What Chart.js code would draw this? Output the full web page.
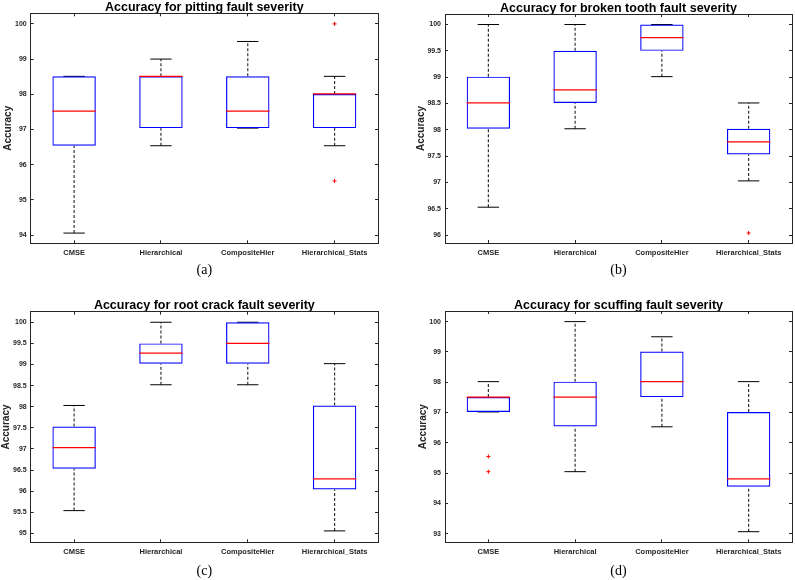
<!DOCTYPE html>
<html>
<head>
<meta charset="utf-8">
<script src="https://cdn.jsdelivr.net/npm/chart.js@4.4.1/dist/chart.umd.min.js"></script>
<style>
  body { margin: 0; background: #fff; }
  canvas { position: absolute; }
</style>
</head>
<body>
<canvas id="pitting" width="397" height="290" style="left:0;top:0"></canvas>
<canvas id="broken" width="398" height="290" style="left:397px;top:0"></canvas>
<canvas id="crack" width="397" height="290" style="left:0;top:290px"></canvas>
<canvas id="scuffing" width="398" height="290" style="left:397px;top:290px"></canvas>
<script>
const categories = ['CMSE', 'Hierarchical', 'CompositeHier', 'Hierarchical_Stats'];

// (a) pitting
const pittingLow = [94.06, 96.54, 97.04, 96.54];
const pittingQ1 = [96.54, 97.04, 97.04, 97.04];
const pittingMedian = [97.52, 98.51, 97.52, 98.01];
const pittingQ3 = [98.51, 98.51, 98.51, 98.01];
const pittingHigh = [98.51, 99.0, 99.5, 98.51];
const pittingOutliers = [[], [], [], [100, 95.54]];

// (b) broken tooth
const brokenLow = [96.53, 98.02, 99.01, 97.03];
const brokenQ1 = [98.02, 98.51, 99.5, 97.53];
const brokenMedian = [98.51, 98.76, 99.75, 97.77];
const brokenQ3 = [99.01, 99.5, 100, 98.02];
const brokenHigh = [100, 100, 100, 98.51];
const brokenOutliers = [[], [], [], [96.04]];

// (c) root crack
const crackLow = [95.54, 98.52, 98.52, 95.06];
const crackQ1 = [96.53, 99.02, 99.02, 96.04];
const crackMedian = [97.03, 99.27, 99.5, 96.29];
const crackQ3 = [97.53, 99.5, 100, 98.03];
const crackHigh = [98.03, 100, 100, 99.02];
const crackOutliers = [[], [], [], []];

// (d) scuffing
const scuffLow = [97.02, 95.05, 96.53, 93.07];
const scuffQ1 = [97.02, 96.54, 97.51, 94.55];
const scuffMedian = [97.51, 97.51, 98.02, 94.81];
const scuffQ3 = [97.51, 98.02, 99.01, 97.02];
const scuffHigh = [98.02, 100, 99.5, 98.02];
const scuffOutliers = [[95.55, 95.05], [], [], []];

Chart.defaults.font.family = "'Liberation Sans', Arial, sans-serif";
Chart.defaults.color = '#262626';
Chart.defaults.animation = false;

const axisColor = '#262626';

function whiskerPoints(low, q1, q3, high) {
  const pts = [];
  categories.forEach((c, i) => {
    pts.push({x: c, y: low[i]}, {x: c, y: q1[i]}, {x: c, y: null});
    pts.push({x: c, y: q3[i]}, {x: c, y: high[i]}, {x: c, y: null});
  });
  return pts;
}

function makeBoxChart(id, p) {
  const caps = [];
  const medians = [];
  const outliers = [];
  categories.forEach((c, i) => {
    caps.push({x: c, y: p.low[i]}, {x: c, y: p.high[i]});
    medians.push({x: c, y: p.median[i]});
    p.outliers[i].forEach(v => outliers.push({x: c, y: v}));
  });

  return new Chart(document.getElementById(id), {
    type: 'bar',
    data: {
      labels: categories,
      datasets: [
        {
          type: 'bar',
          data: categories.map((c, i) => [p.q1[i], p.q3[i]]),
          backgroundColor: 'rgba(0,0,0,0)',
          borderColor: '#0000ff',
          borderWidth: 1.2,
          borderSkipped: false,
          barPercentage: 0.5,
          categoryPercentage: 1,
          order: 1
        },
        {
          type: 'line',
          data: whiskerPoints(p.low, p.q1, p.q3, p.high),
          borderColor: 'rgba(0,0,0,0.8)',
          borderWidth: 1.2,
          borderDash: [3, 2],
          pointRadius: 0,
          spanGaps: false,
          order: 3
        },
        {
          type: 'line',
          data: caps,
          showLine: false,
          pointStyle: 'line',
          pointRadius: 10.7,
          pointBorderColor: '#000',
          pointBorderWidth: 1,
          order: 2
        },
        {
          type: 'line',
          data: medians,
          showLine: false,
          pointStyle: 'line',
          pointRadius: 21.7,
          pointBorderColor: '#ff0000',
          pointBorderWidth: 1.2,
          order: 0
        },
        {
          type: 'line',
          data: outliers,
          showLine: false,
          pointStyle: 'cross',
          pointRadius: 2,
          pointBorderColor: '#ff0000',
          pointBorderWidth: 1,
          order: 0
        }
      ]
    },
    options: {
      responsive: false,
      animation: false,
      layout: { autoPadding: false, padding: { left: 0, right: p.padRight, top: 0, bottom: 0 } },
      plugins: {
        legend: { display: false },
        tooltip: { enabled: false },
        title: {
          display: true,
          text: p.title,
          fullSize: false,
          color: '#000',
          font: { size: 12.5, weight: 'bold', lineHeight: 0.9 },
          padding: { top: p.titleTop, bottom: 0.15 }
        }
      },
      scales: {
        x: {
          offset: true,
          ticks: { padding: 8, maxRotation: 0, autoSkip: false, color: axisColor, font: { size: 7.5, weight: 'bold' } },
          grid: { offset: false, drawOnChartArea: false, drawTicks: true, tickLength: -3, color: axisColor },
          border: { color: axisColor, width: 1 },
          title: {
            display: true,
            text: p.caption,
            color: '#000',
            font: { family: "'Liberation Serif', 'Times New Roman', serif", size: 14, weight: 'normal', lineHeight: 1.2 },
            padding: { top: 0, bottom: p.captionPad }
          },
          afterFit: s => { s.height = p.xHeight; }
        },
        x2: {
          type: 'category',
          position: 'top',
          offset: true,
          ticks: { display: false },
          grid: { offset: false, drawOnChartArea: false, drawTicks: true, tickLength: -3, color: axisColor },
          border: { color: axisColor, width: 1 },
          afterFit: s => { s.height = 0; }
        },
        y: {
          min: p.yMin,
          max: p.yMax,
          ticks: {
            stepSize: p.step,
            includeBounds: false,
            padding: 7,
            color: axisColor,
            font: { size: 7, weight: 'bold' },
            callback: v => String(Math.round(v * 10) / 10)
          },
          grid: { drawOnChartArea: false, drawTicks: true, tickLength: -3, color: axisColor },
          border: { color: axisColor, width: 1 },
          title: {
            display: true,
            text: 'Accuracy',
            color: axisColor,
            font: { size: 10, weight: 'bold', lineHeight: 1.2 },
            padding: { top: p.yTitlePad, bottom: 0 }
          },
          afterFit: s => { s.width = p.yWidth; }
        },
        y2: {
          type: 'linear',
          position: 'right',
          min: p.yMin,
          max: p.yMax,
          ticks: { display: false, stepSize: p.step, includeBounds: false },
          grid: { drawOnChartArea: false, drawTicks: true, tickLength: -3, color: axisColor },
          border: { color: axisColor, width: 1 },
          afterFit: s => { s.width = 0; }
        }
      }
    }
  });
}

makeBoxChart('pitting', {
  title: 'Accuracy for pitting fault severity', caption: '(a)',
  low: pittingLow, q1: pittingQ1, median: pittingMedian, q3: pittingQ3, high: pittingHigh, outliers: pittingOutliers,
  yMin: 93.77, yMax: 100.3, step: 1,
  yWidth: 30.7, padRight: 19, titleTop: 1.9, xHeight: 46.7, captionPad: 11.6, yTitlePad: 2.3
});

makeBoxChart('broken', {
  title: 'Accuracy for broken tooth fault severity', caption: '(b)',
  low: brokenLow, q1: brokenQ1, median: brokenMedian, q3: brokenQ3, high: brokenHigh, outliers: brokenOutliers,
  yMin: 95.85, yMax: 100.2, step: 0.5,
  yWidth: 48, padRight: 3, titleTop: 2.6, xHeight: 47, captionPad: 11.6, yTitlePad: 18
});

makeBoxChart('crack', {
  title: 'Accuracy for root crack fault severity', caption: '(c)',
  low: crackLow, q1: crackQ1, median: crackMedian, q3: crackQ3, high: crackHigh, outliers: crackOutliers,
  yMin: 94.79, yMax: 100.25, step: 0.5,
  yWidth: 30.7, padRight: 19, titleTop: 10.3, xHeight: 37.7, captionPad: 0, yTitlePad: 0.3
});

makeBoxChart('scuffing', {
  title: 'Accuracy for scuffing fault severity', caption: '(d)',
  low: scuffLow, q1: scuffQ1, median: scuffMedian, q3: scuffQ3, high: scuffHigh, outliers: scuffOutliers,
  yMin: 92.72, yMax: 100.35, step: 1,
  yWidth: 48, padRight: 3, titleTop: 9.6, xHeight: 37.7, captionPad: 0, yTitlePad: 20.3
});
</script>
</body>
</html>
